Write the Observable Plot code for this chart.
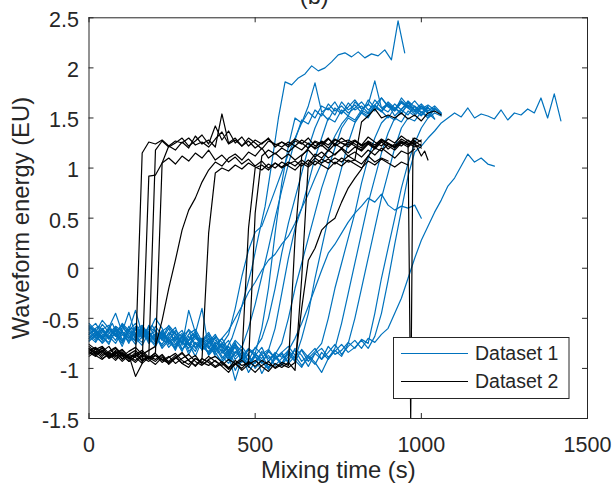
<!DOCTYPE html>
<html><head><meta charset="utf-8">
<script src="https://cdn.jsdelivr.net/npm/d3@7"></script>
<script src="https://cdn.jsdelivr.net/npm/@observablehq/plot@0.6"></script>
<style>body{margin:0;background:#fff;}</style>
</head><body><div id="chart"></div>
<script>
const dt = 20; // sampling step (s)
const xTicks = [0, 500, 1000, 1500];
const yTicks = [-1.5, -1, -0.5, 0, 0.5, 1, 1.5, 2, 2.5];
const legendLabels = ["Dataset 1", "Dataset 2"];
const titleText = "(b)";
const xLabel = "Mixing time (s)";
const yLabel = "Waveform energy (EU)";

// ---- Dataset 1 (blue) ----
const d1_01 = [-0.62,-0.58,-0.66,-0.55,-0.70,-0.63,-0.60,-0.72,-0.65,-0.57,
-0.68,-0.74,-0.62,-0.70,-0.78,-0.66,-0.73,-0.80,-0.69,-0.75,
-0.82,-0.70,-0.50,-0.25,0.00,0.32,0.62,1.05,1.50,1.86,
1.83,1.90,1.94,2.02,1.97,2.00,2.06,2.13,2.15,2.11,
2.16,2.10,2.14,2.12,2.18,2.08,2.47,2.15];
const d1_02 = [-0.70,-0.64,-0.72,-0.60,-0.67,-0.75,-0.62,-0.69,-0.58,-0.71,
-0.66,-0.78,-0.70,-0.64,-0.81,-0.72,-0.68,-0.77,-0.85,-0.74,
-0.80,-0.88,-0.76,-0.83,-0.92,-0.79,-0.86,-0.81,-0.90,-0.84,
-0.78,-0.87,-0.82,-0.93,-0.85,-0.80,-0.89,-0.83,-0.76,-0.84,
-0.79,-0.72,-0.80,-0.68,-0.45,-0.12,0.24,0.58,0.92,1.16,
1.22,1.30,1.37,1.45,1.50,1.55,1.51,1.60,1.50,1.54,
1.52,1.49,1.58,1.48,1.55,1.53,1.59,1.55,1.70,1.50,
1.74,1.47];
const d1_03 = [-0.60,-0.68,-0.56,-0.64,-0.72,-0.59,-0.66,-0.61,-0.70,-0.63,
-0.74,-0.65,-0.71,-0.79,-0.68,-0.75,-0.83,-0.70,-0.78,-0.86,
-0.81,-0.92,-0.85,-0.78,-0.88,-0.95,-0.83,-0.90,-0.86,-0.97,
-0.88,-0.82,-0.93,-0.87,-0.80,-0.91,-0.84,-0.76,-0.86,-0.78,
-0.72,-0.80,-0.70,-0.74,-0.66,-0.60,-0.45,-0.30,-0.10,0.10,
0.28,0.42,0.56,0.68,0.82,0.90,1.02,1.14,1.06,1.10,
1.04,1.02];
const d1_04 = [-0.66,-0.61,-0.69,-0.74,-0.63,-0.57,-0.68,-0.72,-0.60,-0.65,
-0.71,-0.62,-0.76,-0.69,-0.73,-0.80,-0.66,-0.75,-0.70,-0.82,
-0.77,-0.86,-0.74,-0.90,-0.81,-0.87,-0.79,-0.93,-0.84,-0.89,
-0.82,-0.70,-0.55,-0.38,-0.20,-0.02,0.15,0.24,0.35,0.46,
0.55,0.62,0.70,0.66,0.74,0.63,0.58,0.62,0.60,0.63,
0.50];
const d1_05 = [-0.58,-0.64,-0.52,-0.60,-0.67,-0.55,-0.62,-0.42,-0.66,-0.59,
-0.63,-0.70,-0.57,-0.65,-0.74,-0.61,-0.68,-0.72,-0.64,-0.76,
-0.70,-0.62,-0.50,-0.38,-0.24,-0.14,-0.02,0.08,0.14,0.24,
0.32,0.45,0.60,0.74,0.90,1.05,1.18,1.32,1.44,1.52,
1.48,1.58,1.54,1.62,1.57,1.66,1.60,1.55,1.63,1.58,
1.52,1.60,1.56];
const d1_06 = [-0.72,-0.66,-0.75,-0.68,-0.62,-0.73,-0.58,-0.70,-0.77,-0.64,
-0.50,-0.60,-0.74,-0.80,-0.67,-0.72,-0.63,-0.78,-0.71,-0.84,
-0.76,-0.66,-0.40,-0.08,0.18,0.36,0.42,0.60,0.78,0.96,
1.14,1.30,1.45,1.56,1.50,1.62,1.58,1.66,1.55,1.61,
1.68,1.59,1.64,1.57,1.70,1.62,1.58,1.66,1.60,1.54,
1.62,1.56];
const d1_07 = [-0.64,-0.70,-0.61,-0.57,-0.68,-0.63,-0.75,-0.60,-0.66,-0.71,
-0.58,-0.67,-0.73,-0.62,-0.69,-0.77,-0.65,-0.40,-0.80,-0.68,
-0.74,-0.83,-0.72,-0.79,-0.60,-0.36,-0.08,0.20,0.50,0.78,
1.04,1.28,1.48,1.44,1.58,1.52,1.64,1.57,1.62,1.55,
1.60,1.66,1.58,1.63,1.70,1.61,1.57,1.65,1.60,1.67,
1.59,1.63,1.58];
const d1_08 = [-0.55,-0.62,-0.68,-0.59,-0.45,-0.64,-0.70,-0.61,-0.57,-0.66,
-0.72,-0.63,-0.58,-0.69,-0.75,-0.66,-0.61,-0.73,-0.68,-0.79,
-0.70,-0.82,-0.76,-0.88,-0.80,-0.85,-0.60,-0.20,0.35,0.85,
1.22,1.50,1.45,1.62,1.85,1.56,1.60,1.53,1.66,1.58,
1.63,1.55,1.68,1.60,1.57,1.64,1.59,1.67,1.61,1.56,
1.60];
const d1_09 = [-0.68,-0.74,-0.63,-0.70,-0.60,-0.66,-0.72,-0.65,-0.58,-0.69,
-0.76,-0.64,-0.70,-0.82,-0.67,-0.74,-0.79,-0.71,-0.86,-0.77,
-0.83,-0.90,-0.78,-0.94,-0.85,-0.80,-0.70,-0.50,-0.20,0.15,
0.45,0.70,0.95,1.20,1.40,1.55,1.48,1.60,1.54,1.65,
1.58,1.62,1.55,1.68,1.60,1.64,1.57,1.70,1.62,1.58,
1.64,1.57,1.62,1.55];
const d1_10 = [-0.61,-0.55,-0.66,-0.70,-0.58,-0.63,-0.44,-0.67,-0.60,-0.73,
-0.65,-0.71,-0.60,-0.76,-0.68,-0.62,-0.80,-0.70,-0.74,-0.66,
-0.79,-0.72,-0.88,-0.81,-0.95,-0.86,-0.90,-0.82,-0.60,-0.25,
0.10,0.40,0.60,0.85,1.10,1.30,1.50,1.46,1.58,1.52,
1.66,1.59,1.63,1.87,1.60,1.56,1.64,1.58,1.67,1.61,
1.55,1.62];
const d1_11 = [-0.73,-0.67,-0.60,-0.71,-0.65,-0.78,-0.62,-0.69,-0.74,-0.57,
-0.70,-0.76,-0.64,-0.72,-0.83,-0.68,-0.75,-0.81,-0.73,-0.88,
-0.92,-0.84,-1.02,-0.89,-0.96,-0.87,-1.05,-0.93,-0.86,-0.75,
-0.50,-0.20,0.05,0.30,0.55,0.80,1.00,1.20,1.40,1.50,
1.46,1.56,1.52,1.63,1.57,1.50,1.60,1.54,1.66,1.58,
1.53,1.61,1.49];
const d1_12 = [-0.59,-0.65,-0.71,-0.62,-0.68,-0.56,-0.64,-0.73,-0.61,-0.67,
-0.63,-0.72,-0.66,-0.59,-0.77,-0.42,-0.64,-0.82,-0.74,-0.69,
-0.85,-0.78,-0.91,-0.84,-0.99,-0.88,-0.93,-1.00,-0.87,-0.95,
-0.82,-0.90,-0.70,-0.45,-0.10,0.20,0.50,0.75,1.00,1.25,
1.45,1.55,1.50,1.62,1.56,1.64,1.52,1.59,1.65,1.57,
1.62,1.54,1.60];
const d1_13 = [-0.66,-0.72,-0.60,-0.68,-0.75,-0.63,-0.70,-0.58,-0.69,-0.64,
-0.74,-0.67,-0.79,-0.71,-0.65,-0.83,-0.76,-0.70,-0.87,-0.79,
-0.90,-0.82,-0.96,-0.88,-1.04,-0.93,-0.86,-0.99,-0.91,-0.84,
-0.95,-0.88,-0.97,-0.90,-0.83,-0.75,-0.50,-0.20,0.05,0.30,
0.55,0.85,1.10,1.30,1.45,1.52,1.48,1.58,1.53,1.62,
1.56,1.50,1.59,1.54];
const d1_14 = [-0.62,-0.69,-0.74,-0.65,-0.58,-0.71,-0.67,-0.76,-0.63,-0.70,
-0.78,-0.66,-0.73,-0.69,-0.81,-0.75,-0.88,-0.72,-0.80,-0.84,
-0.94,-0.86,-1.12,-0.90,-0.98,-0.85,-0.93,-1.01,-0.89,-0.96,
-0.84,-0.92,-0.99,-0.87,-0.94,-1.04,-0.90,-0.80,-0.55,-0.25,
0.05,0.35,0.65,0.90,1.15,1.35,1.50,1.46,1.57,1.52,
1.60,1.55,1.49];
const d1_15 = [-0.70,-0.64,-0.68,-0.76,-0.61,-0.66,-0.73,-0.69,-0.62,-0.75,
-0.67,-0.80,-0.72,-0.77,-0.70,-0.86,-0.74,-0.79,-0.83,-0.76,
-0.88,-0.95,-0.83,-0.91,-0.86,-1.00,-0.92,-0.87,-0.97,-0.90,
-0.86,-0.93,-0.81,-0.89,-0.96,-0.84,-0.91,-0.82,-0.88,-0.75,
-0.50,-0.20,0.10,0.40,0.70,0.95,1.20,1.40,1.50,1.47,
1.56,1.52,1.60,1.54];
const d1_16 = [-0.57,-0.63,-0.70,-0.60,-0.66,-0.73,-0.62,-0.55,-0.68,-0.64,
-0.71,-0.65,-0.74,-0.68,-0.62,-0.77,-0.70,-0.73,-0.66,-0.81,
-0.75,-0.84,-0.79,-0.92,-0.81,-0.88,-0.95,-0.83,-0.90,-0.86,
-0.93,-0.80,-0.87,-0.98,-0.85,-0.91,-0.78,-0.86,-0.82,-0.74,
-0.80,-0.71,-0.75,-0.45,-0.10,0.20,0.50,0.80,1.05,1.25,
1.40,1.50,1.55,1.52];
const d1Start = [10,0,0,0,0,0,0,0,0,0,0,0,0,0,0,0];

// ---- Dataset 2 (black) ----
const d2_01 = [-0.82,-0.79,-0.86,-0.84,-0.90,-0.87,-0.93,-0.88,1.15,1.26,
1.24,1.28,1.22,1.27,1.25,1.30,1.23,1.26,1.21,1.29,
1.36,1.24,1.28,1.22,1.30,1.25,1.19,1.27,1.24,1.21,
1.26,1.22,1.28,1.24,1.20,1.27,1.23,1.29,1.25,1.21,
1.27,1.23,1.26,1.20,1.28,1.24,1.22,1.29,1.25,1.21,
1.24];
const d2_02 = [-0.78,-0.84,-0.80,-0.87,-0.83,-0.91,-0.86,-0.89,-0.95,0.92,
0.93,1.05,1.10,1.04,1.12,1.07,1.15,1.10,1.18,1.08,
1.13,1.06,1.11,1.04,1.09,1.02,1.07,1.00,1.05,1.01,
1.06,1.02,1.08,1.03,1.10,1.05,1.09,1.04,1.10,1.06,
1.08,1.04,1.12,1.06,1.10,1.07];
const d2_03 = [-0.85,-0.81,-0.88,-0.83,-0.79,-0.86,-0.90,-0.84,-0.92,-0.88,
1.18,1.27,1.21,1.25,1.30,1.22,1.27,1.33,1.24,1.42,
1.28,1.37,1.25,1.31,1.22,1.28,1.24,1.30,1.21,1.26,
1.23,1.29,1.25,1.20,1.27,1.24,1.30,1.22,1.26,1.28,
1.24,1.20,1.27,1.23,1.29,1.25,1.21,1.26,1.23,1.27];
const d2_04 = [-0.80,-0.86,-0.82,-0.89,-0.85,-0.81,-0.88,-0.92,-0.86,-0.90,
-0.84,1.05,1.22,1.18,1.26,1.20,1.32,1.24,1.28,1.21,
1.54,1.25,1.30,1.22,1.27,1.20,1.25,1.29,1.23,1.26,
1.21,1.27,1.24,1.30,1.22,1.26,1.20,1.28,1.25,1.23,
1.27,1.22,1.26,1.21,1.28,1.24,1.20,1.26,1.25,
-4.0,1.30,1.22,1.12,1.17,1.08];
const d2_04Times = [...d3.range(0, 961, dt), 968, 975, 985, 1000, 1010, 1020];
const d2_05 = [-0.76,-0.81,-0.78,-0.85,-0.80,-0.88,-0.83,-0.79,-0.86,-0.82,
-0.78,-0.52,-0.20,0.08,0.38,0.58,0.70,0.86,0.98,1.06,
1.02,1.10,1.14,1.08,1.16,1.12,1.20,1.10,1.15,1.09,
1.14,1.08,1.13,1.18,1.11,1.16,1.10,1.14,1.19,1.12,
1.16,1.11,1.18,1.13,1.20,1.15,1.10,1.17,1.14,1.19];
const d2_06 = [-0.84,-0.88,-0.82,-0.90,-0.86,-0.93,-0.87,-1.08,-0.95,-0.89,
-0.93,-0.87,-0.96,-0.90,-0.85,-0.92,-0.98,-0.91,0.35,0.95,
1.00,0.97,1.03,0.99,1.05,1.01,0.98,1.04,1.00,1.06,
1.02,0.98,1.05,1.01,1.07,1.03,0.99,1.06,1.02,1.08,
1.04,1.00,1.07,1.03,1.09,1.05,1.01,1.06,1.03];
const d2_07 = [-0.88,-0.83,-0.90,-0.86,-0.92,-0.85,-0.89,-0.94,-0.87,-0.91,
-0.96,-0.89,-0.93,-0.87,-0.95,-0.99,-0.90,-0.94,-0.97,-0.92,
-0.98,-1.04,-0.95,-0.90,0.40,1.00,1.03,0.98,1.05,1.00,
1.04,1.07,1.02,1.08,1.03,1.09,1.05,1.10,1.06,1.12,
1.08,1.46,1.52,1.59,1.50,1.53,1.50,1.55,1.49,1.53,
1.47,1.55,1.57,1.53];
const d2_08 = [-0.80,-0.86,-0.83,-0.78,-0.88,-0.84,-0.91,-0.86,-0.82,-0.89,
-0.85,-0.92,-0.88,-0.95,-0.90,-0.86,-0.93,-0.97,-0.91,-0.88,
-0.94,-1.00,-0.92,-0.97,-0.95,0.55,1.12,1.18,1.14,1.20,
1.16,1.22,1.18,1.25,1.19,1.23,1.17,1.24,1.20,1.26,
1.22,1.18,1.25,1.21,1.27,1.19,1.24,1.22,1.28,1.23,
1.20];
const d2_09 = [-0.86,-0.80,-0.84,-0.89,-0.82,-0.87,-0.93,-0.88,-0.84,-0.90,
-0.87,-0.94,-0.89,-0.85,-0.92,-0.96,-0.90,-0.94,-0.88,-0.93,
-0.97,-0.91,-0.95,-1.00,-0.93,-0.98,-0.92,-0.96,-0.99,-0.94,
-0.97,0.30,1.12,1.20,1.26,1.22,1.29,1.24,1.30,1.25,
1.28,1.23,1.31,1.26,1.22,1.29,1.25,1.32,1.27,1.24,
1.28];
const d2_10 = [-0.83,-0.87,-0.91,-0.85,-0.88,-0.82,-0.90,-0.86,-0.93,-0.88,
-0.91,-0.86,-0.94,-0.89,-0.95,-0.91,-0.87,-0.96,-0.92,-0.98,
-0.93,-0.99,-0.95,-1.02,-0.96,-0.92,-0.98,-1.03,-0.95,-0.99,
-0.94,-1.02,-0.10,1.05,1.14,1.10,1.18,1.13,1.20,1.15,
1.21,1.17,1.24,1.19,1.26,1.22,1.18,1.25,1.21,1.27,
1.22];
const d2_11 = [-0.81,-0.85,-0.79,-0.88,-0.84,-0.90,-0.86,-0.82,-0.89,-0.93,
-0.87,-0.91,-0.95,-0.89,-0.84,-0.92,-0.97,-0.90,-0.94,-0.99,
-0.95,-1.01,-0.96,-0.92,-0.98,-1.04,-0.97,-0.93,-1.00,-0.96,
-0.99,-0.94,-0.40,0.08,0.20,0.38,0.45,0.50,0.66,0.80,
0.90,0.99,1.12,1.20,1.17,1.24,1.21,1.27,1.23,1.30,
1.26];

const set1 = [d1_01,d1_02,d1_03,d1_04,d1_05,d1_06,d1_07,d1_08,d1_09,d1_10,d1_11,d1_12,d1_13,d1_14,d1_15,d1_16];
const set2 = [d2_01,d2_02,d2_03,d2_04,d2_05,d2_06,d2_07,d2_08,d2_09,d2_10,d2_11];
const set2Times = {3: d2_04Times};

function rowsOf(values, id, t0, times) {
  return values.map((v, i) => ({id, t: times ? times[i] : t0 + i * dt, v}));
}
const rows1 = set1.flatMap((vals, k) => rowsOf(vals, "a" + k, d1Start[k], null));
const rows2 = set2.flatMap((vals, k) => rowsOf(vals, "b" + k, 0, set2Times[k] || null));

const W = 613, H = 493;
const mL = 88.5, mR = 26, mT = 17.3, mB = 75;
const pW = W - mL - mR, pH = H - mT - mB;
const axisColor = "#262626";
const blue = "#0072BD";
const font = "'Liberation Sans', Arial, Helvetica, sans-serif";

const plot = Plot.plot({
  width: W, height: H,
  marginLeft: mL, marginRight: mR, marginTop: mT, marginBottom: mB,
  x: {domain: [0, 1500]},
  y: {domain: [-1.5, 2.5], clamp: true},
  style: {fontFamily: font, background: "white", color: axisColor},
  marks: [
    Plot.line(rows1, {x: "t", y: "v", z: "id", stroke: blue, strokeWidth: 1.2, clip: true}),
    Plot.line(rows2, {x: "t", y: "v", z: "id", stroke: "#000", strokeWidth: 1.2, clip: true}),
    Plot.frame({stroke: axisColor, strokeWidth: 1}),
    Plot.tickY(yTicks, {y: d => d, stroke: axisColor, insetRight: pW - 5}),
    Plot.tickY(yTicks, {y: d => d, stroke: axisColor, insetLeft: pW - 5}),
    Plot.tickX(xTicks, {x: d => d, stroke: axisColor, insetTop: pH - 5}),
    Plot.tickX(xTicks, {x: d => d, stroke: axisColor, insetBottom: pH - 5}),
    Plot.axisY(yTicks, {tickSize: 0, tickPadding: 10, fontSize: 21.5, dy: 2.5, label: null, tickFormat: d => String(d), fill: axisColor}),
    Plot.axisX(xTicks, {tickSize: 0, tickPadding: 18, fontSize: 21.5, label: null, tickFormat: d => String(d), fill: axisColor}),
    Plot.text([yLabel], {frameAnchor: "left", textAnchor: "middle", rotate: -90, dx: -68, fontSize: 23.8, fill: axisColor}),
    Plot.text([xLabel], {frameAnchor: "bottom", textAnchor: "middle", dy: 59, fontSize: 23.8, fill: axisColor}),
    Plot.text([titleText], {frameAnchor: "top", textAnchor: "middle", dx: -24, dy: -14, lineAnchor: "bottom", fontSize: 23.8, fill: axisColor})
  ]
});

// legend (inside plot, lower right)
const svg = d3.select(plot);
const lg = svg.append("g").attr("font-family", font).attr("font-size", 19.5).attr("fill", axisColor).attr("text-anchor", "start");
lg.append("rect").attr("x", 393.5).attr("y", 337.5).attr("width", 175.5).attr("height", 61)
  .attr("fill", "white").attr("stroke", axisColor).attr("stroke-width", 1);
const legendColors = [blue, "#000"];
legendLabels.forEach((lab, i) => {
  const cy = 353.5 + i * 28;
  lg.append("line").attr("x1", 401).attr("x2", 468).attr("y1", cy).attr("y2", cy)
    .attr("stroke", legendColors[i]).attr("stroke-width", 1.2);
  lg.append("text").attr("x", 475).attr("y", cy).attr("dy", "0.35em").attr("text-anchor", "start").text(lab);
});

document.getElementById("chart").appendChild(plot);
</script>
</body></html>
